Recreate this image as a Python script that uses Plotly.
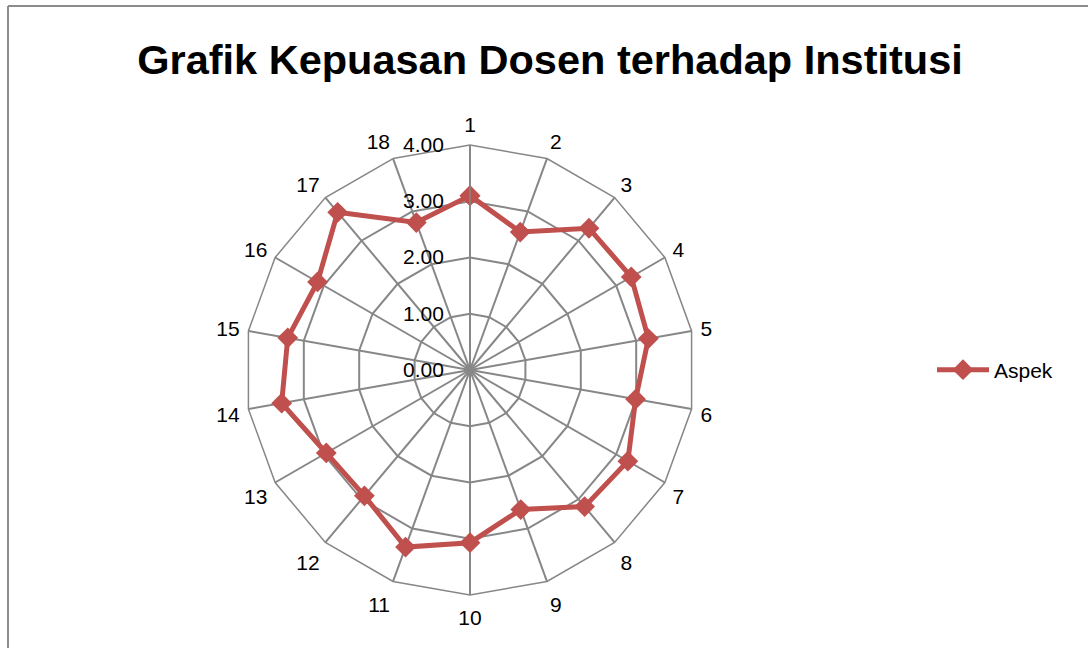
import plotly.graph_objects as go

categories = [str(i) for i in range(1, 19)]
values = [3.10, 2.61, 3.29, 3.31, 3.22, 2.99, 3.24, 3.17, 2.64, 3.07,
          3.35, 2.92, 2.95, 3.40, 3.29, 3.13, 3.66, 2.79]
series_name = "Aspek"
title_text = "Grafik Kepuasan Dosen terhadap Institusi"
radial_ticks = [0, 1, 2, 3, 4]
radial_ticklabels = ["0.00", "1.00", "2.00", "3.00", "4.00"]

W, H = 1088, 648
cx, cy, R = 470, 370, 225

fig = go.Figure()
fig.add_trace(go.Scatterpolar(
    r=values + [values[0]],
    theta=categories + [categories[0]],
    mode="lines+markers",
    name=series_name,
    line=dict(color="#C0504D", width=5),
    marker=dict(symbol="diamond", size=16, color="#C0504D"),
))

grid_col = "#878787"
fig.update_layout(
    width=W, height=H,
    margin=dict(l=0, r=0, t=0, b=0),
    paper_bgcolor="white",
    plot_bgcolor="white",
    font=dict(family="Liberation Sans, Arial", color="black", size=20),
    title=dict(text=title_text, x=550 / W, xanchor="center",
               y=1 - 59 / H, yanchor="middle",
               font=dict(family="Liberation Sans, Arial", size=41.5, color="black", weight="bold")),
    polar=dict(
        domain=dict(x=[(cx - R) / W, (cx + R) / W], y=[1 - (cy + R) / H, 1 - (cy - R) / H]),
        gridshape="linear",
        bgcolor="white",
        angularaxis=dict(
            direction="clockwise", rotation=90,
            categoryorder="array", categoryarray=categories,
            showline=True, linecolor=grid_col, linewidth=1.5,
            gridcolor=grid_col, gridwidth=1.5,
            ticks="outside", ticklen=4, tickcolor="rgba(0,0,0,0)",
            tickfont=dict(size=21, color="black"),
        ),
        radialaxis=dict(
            range=[0, 4], tickvals=radial_ticks, ticktext=radial_ticklabels,
            angle=90, tickangle=90, side="counterclockwise",
            showline=True, linecolor=grid_col, linewidth=1.5,
            gridcolor=grid_col, gridwidth=1.5,
            ticks="outside", ticklen=18, tickcolor="rgba(0,0,0,0)",
            tickfont=dict(size=21, color="black"),
        ),
    ),
    showlegend=True,
    legend=dict(x=932 / W, y=1 - 370 / H, xanchor="left", yanchor="middle",
                itemwidth=52,
                font=dict(size=21, color="black"), bgcolor="rgba(0,0,0,0)"),
    shapes=[
        dict(type="line", xref="paper", yref="paper", x0=8 / W, x1=1.02, y0=1 - 6 / H, y1=1 - 6 / H,
             line=dict(color="#8c8c8c", width=2)),
        dict(type="line", xref="paper", yref="paper", x0=8 / W, x1=8 / W, y0=1 - 6 / H, y1=-0.02,
             line=dict(color="#8c8c8c", width=2)),
    ],
)

fig.write_html("out.html", config={"displayModeBar": False},
               post_script="document.body.style.margin='0px';document.body.style.overflow='hidden';")
